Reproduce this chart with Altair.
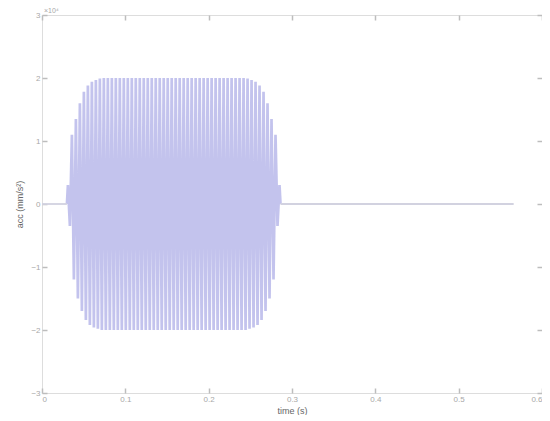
import altair as alt
import numpy as np
import pandas as pd

x_ticks = [0, 0.1, 0.2, 0.3, 0.4, 0.5, 0.6]
y_ticks = [-3, -2, -1, 0, 1, 2, 3]

burst_start = 0.0311
burst_end = 0.2850
signal_end = 0.566

# successive peak values of the oscillation (x 10^4 mm/s^2)
peaks = [
    0.3, -0.35, 1.1, -1.2, 1.35, -1.5, 1.6, -1.7, 1.78, -1.84,
    1.88, -1.92, 1.94, -1.96, 1.97, -1.98, 1.99, -2.0, 2.0, -2.0,
    2.0, -2.0, 2.0, -2.0, 2.0, -2.0, 2.0, -2.0, 2.0, -2.0,
    2.0, -2.0, 2.0, -2.0, 2.0, -2.0, 2.0, -2.0, 2.0, -2.0,
    2.0, -2.0, 2.0, -2.0, 2.0, -2.0, 2.0, -2.0, 2.0, -2.0,
    2.0, -2.0, 2.0, -2.0, 2.0, -2.0, 2.0, -2.0, 2.0, -2.0,
    2.0, -2.0, 2.0, -2.0, 2.0, -2.0, 2.0, -2.0, 2.0, -2.0,
    2.0, -2.0, 2.0, -2.0, 2.0, -2.0, 2.0, -2.0, 2.0, -2.0,
    2.0, -2.0, 2.0, -2.0, 2.0, -2.0, 2.0, -2.0, 2.0, -2.0,
    1.99, -1.98, 1.97, -1.96, 1.94, -1.92, 1.88, -1.84, 1.78, -1.7,
    1.6, -1.5, 1.35, -1.2, 1.1, -0.35, 0.3,
]

peak_t = np.linspace(burst_start, burst_end, len(peaks))
burst = pd.DataFrame({
    "t": [burst_start - 0.0012, *peak_t, burst_end + 0.0012],
    "acc": [0.0, *peaks, 0.0],
})
flat = pd.DataFrame({
    "t": [0.0, burst_start - 0.0012, burst_end + 0.0012, signal_end],
    "acc": [0.0, 0.0, 0.0, 0.0],
    "seg": ["a", "a", "b", "b"],
})
exp_df = pd.DataFrame({"t": [0.0], "acc": [3.0], "txt": ["×10⁴"]})

FONT = "Liberation Sans"
xscale = alt.Scale(domain=[0, 0.6], nice=False, zero=False)
yscale = alt.Scale(domain=[-3, 3], nice=False, zero=False)

common_axis = dict(
    grid=False, domain=False, ticks=True, tickSize=5, offset=-5,
    tickColor="#bdbdbd", tickWidth=1.5,
    labelFont=FONT, labelFontSize=8, labelColor="#a8a8a8",
    titleFont=FONT, titleFontSize=9, titleColor="#666666", titleFontWeight="normal",
)

burst_layer = alt.Chart(burst).mark_line(
    color="#7a7ad6", strokeWidth=2.7, strokeOpacity=0.45, interpolate="linear"
).encode(
    x=alt.X("t:Q", scale=xscale, axis=alt.Axis(
        orient="bottom", values=x_ticks, format="~g", title="time (s)",
        labelPadding=2, titlePadding=3, **common_axis)),
    y=alt.Y("acc:Q", scale=yscale, axis=alt.Axis(
        orient="left", values=y_ticks, format="~g", title="acc (mm/s²)",
        labelPadding=2, titlePadding=6, **common_axis)),
)

flat_layer = alt.Chart(flat).mark_line(
    color="#d2d2e0", strokeWidth=1.8
).encode(
    x=alt.X("t:Q", scale=xscale, axis=alt.Axis(
        orient="top", values=x_ticks, labels=False, title=None, **common_axis)),
    y=alt.Y("acc:Q", scale=yscale, axis=alt.Axis(
        orient="right", values=y_ticks, labels=False, title=None, **common_axis)),
    detail="seg:N",
)

exp_layer = alt.Chart(exp_df).mark_text(
    align="left", baseline="bottom", dx=2, dy=-1, font=FONT, fontSize=7, color="#a8a8a8"
).encode(
    x=alt.X("t:Q", scale=xscale, axis=None),
    y=alt.Y("acc:Q", scale=yscale, axis=None),
    text="txt:N",
)

chart = alt.layer(burst_layer, flat_layer, exp_layer).resolve_axis(
    x="independent", y="independent"
).properties(
    width=500, height=378,
    autosize=alt.AutoSizeParams(type="none"),
    padding={"left": 34, "top": 7, "right": 0, "bottom": 22},
).configure_view(
    stroke="#cccccc", strokeWidth=1.5
).configure(background="white")

chart.save("out.html", embed_options={"renderer": "svg", "actions": False})
